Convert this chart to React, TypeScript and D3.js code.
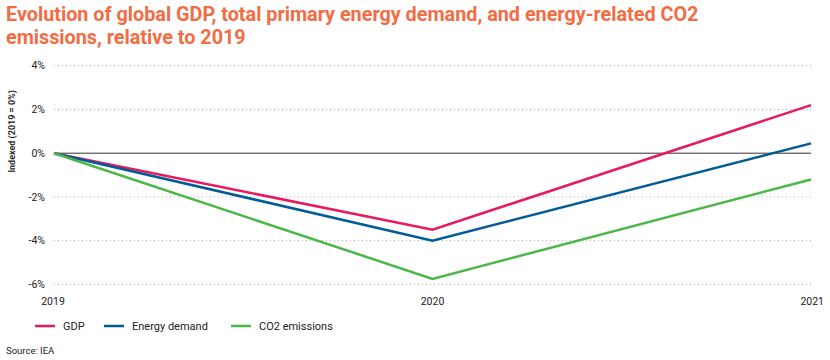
import React from "react";
import * as d3 from "d3";

const years = ["2019", "2020", "2021"];
const gdp = [0, -3.5, 2.2];
const energy = [0, -4.0, 0.45];
const co2 = [0, -5.75, -1.2];
const yTicks = [4, 2, 0, -2, -4, -6];
const seriesNames = ["GDP", "Energy demand", "CO2 emissions"];
const seriesColors = ["#e8195e", "#005b96", "#4cb749"];

const W = 830, H = 360;
const FONT = "Roboto, 'Liberation Sans', sans-serif";

export default function App() {
  const x = d3.scalePoint<string>().domain(years).range([54, 811]);
  const y = d3.scaleLinear().domain([-6, 4]).range([284.3, 65.8]);
  const line = d3.line<number>().x((_, i) => x(years[i])!).y((v) => y(v));
  const series = [gdp, energy, co2];
  const legendX = [35, 104, 231];
  return (
    <svg width={W} height={H} style={{ position: "absolute", left: 0, top: 0 }} fontFamily={FONT}>
      <text x={6} y={21} fontSize={19.8} fontWeight={700} fill="#f26c44">
        Evolution of global GDP, total primary energy demand, and energy-related CO2
      </text>
      <text x={6} y={44} fontSize={19.8} fontWeight={700} fill="#f26c44">
        emissions, relative to 2019
      </text>
      {yTicks.map((t) => (
        <g key={t}>
          {t !== 0 && (
            <line x1={54} x2={811} y1={y(t)} y2={y(t)} stroke="#aaa" strokeWidth={1} strokeDasharray="1,3" />
          )}
          <text x={45} y={y(t)} dy="0.35em" fontSize={10.5} textAnchor="end" fill="#222">
            {t}%
          </text>
        </g>
      ))}
      <line x1={54} x2={811} y1={y(0)} y2={y(0)} stroke="#333" strokeWidth={1} />
      <text transform={`translate(15,${y(1)}) rotate(-90)`} textAnchor="middle" fontSize={9} fontWeight={600} fill="#222">
        Indexed (2019 = 0%)
      </text>
      {years.map((yr, i) => (
        <text key={yr} x={x(yr)} y={305} fontSize={10.5} fill="#222"
          textAnchor={i === 0 ? "middle" : i === years.length - 1 ? "end" : "middle"} dx={i === 0 ? -1 : i === 2 ? 13 : 0}>
          {yr}
        </text>
      ))}
      {series.map((s, i) => (
        <path key={i} d={line(s)!} fill="none" stroke={seriesColors[i]} strokeWidth={2.5} />
      ))}
      {seriesNames.map((n, i) => (
        <g key={n}>
          <line x1={legendX[i]} x2={legendX[i] + 20} y1={326} y2={326} stroke={seriesColors[i]} strokeWidth={2.5} />
          <text x={legendX[i] + 28} y={326} dy="0.35em" fontSize={11} fill="#222">{n}</text>
        </g>
      ))}
      <text x={6} y={354} fontSize={9.5} fill="#222">Source: IEA</text>
    </svg>
  );
}
